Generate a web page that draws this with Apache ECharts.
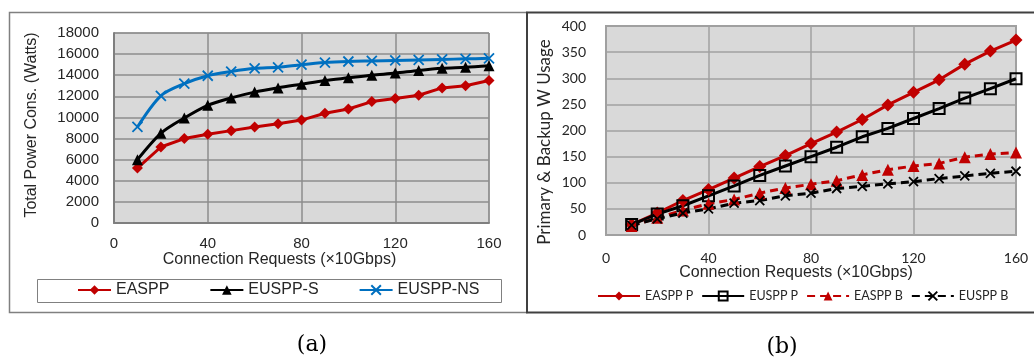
<!DOCTYPE html>
<html>
<head>
<meta charset="utf-8">
<script src="https://cdn.jsdelivr.net/npm/echarts@6/dist/echarts.min.js"></script>
<style>
html,body{margin:0;padding:0;background:#fff;}
#chart{width:1034px;height:361px;}
</style>
</head>
<body>
<div id="chart"></div>
<script>
// ---- Data ----
const requests = [10,20,30,40,50,60,70,80,90,100,110,120,130,140,150,160];

// (a) Total power consumption (Watts)
const easpp    = [5200,7200,8000,8400,8750,9100,9400,9750,10400,10800,11500,11800,12100,12800,13000,13500];
const euspps   = [6000,8500,9950,11150,11850,12400,12800,13150,13500,13750,14000,14200,14450,14650,14750,14900];
const eusppns  = [9100,12050,13200,13950,14350,14650,14750,15000,15200,15300,15350,15400,15450,15500,15550,15600];

// (b) Primary & backup wavelength usage
const easppP = [20,42,66,87,109,131,152,175,197,221,249,273,297,327,352,373];
const eusppP = [20,40,56,75,94,114,132,150,168,188,204,223,242,262,280,299];
const easppB = [17,33,47,60,68,80,90,97,104,115,125,132,137,149,155,158];
const eusppB = [19,31,42,50,61,66,75,80,89,93,98,102,108,113,118,122];

const namesA = ['EASPP','EUSPP-S','EUSPP-NS'];
const namesB = ['EASPP P','EUSPP P','EASPP B','EUSPP B'];

const xTitle = 'Connection Requests (×10Gbps)';
const yTitleA = 'Total Power Cons. (Watts)';
const yTitleB = 'Primary & Backup W Usage';

function pairs(ys){ return requests.map((x,i)=>[x, ys[i]]); }

const RED = '#c00000', BLACK = '#000000', BLUE = '#0070c0';
const XSYM = 'path://M0,0L10,10M0,10L10,0';
const ARIAL = 'Liberation Sans';
const CAL = 'Lato';
const plain = v => String(v);

const chart = echarts.init(document.getElementById('chart'), null, {renderer:'canvas'});

const option = {
  animation: false,
  backgroundColor: '#ffffff',
  grid: [
    {left:114, top:33, width:375, height:190, show:true, backgroundColor:'#d9d9d9', borderColor:'#8c8c8c', borderWidth:1, containLabel:false},
    {left:606, top:26, width:410, height:209, show:true, backgroundColor:'#d9d9d9', borderColor:'#a0a0a0', borderWidth:2, containLabel:false}
  ],
  xAxis: [
    {gridIndex:0, type:'value', min:0, max:160, interval:40,
      axisLine:{show:true, onZero:false, lineStyle:{color:'#7f7f7f', width:2}},
      axisTick:{show:false},
      axisLabel:{color:'#262626', fontFamily:ARIAL, fontSize:15, margin:13, formatter:plain},
      splitLine:{show:true, lineStyle:{color:'#8c8c8c', width:1.5}}},
    {gridIndex:1, type:'value', min:0, max:160, interval:40,
      axisLine:{show:true, onZero:false, lineStyle:{color:'#a0a0a0', width:2}},
      axisTick:{show:false},
      axisLabel:{color:'#262626', fontFamily:CAL, fontSize:14, margin:16, formatter:plain},
      splitLine:{show:true, lineStyle:{color:'#a0a0a0', width:1.5}}}
  ],
  yAxis: [
    {gridIndex:0, type:'value', min:0, max:18000, interval:2000,
      axisLine:{show:true, lineStyle:{color:'#7f7f7f', width:2}},
      axisTick:{show:false},
      axisLabel:{color:'#262626', fontFamily:ARIAL, fontSize:15, margin:15, formatter:plain},
      splitLine:{show:true, lineStyle:{color:'#8c8c8c', width:1.5}}},
    {gridIndex:1, type:'value', min:0, max:400, interval:50,
      axisLine:{show:true, lineStyle:{color:'#a0a0a0', width:2}},
      axisTick:{show:false},
      axisLabel:{color:'#262626', fontFamily:CAL, fontSize:14, margin:20, formatter:plain},
      splitLine:{show:true, lineStyle:{color:'#a0a0a0', width:1.5}}}
  ],
  legend: [
    {data:namesA, left:77, top:282, padding:0, itemGap:40, itemWidth:33, itemHeight:12,
      textStyle:{fontFamily:ARIAL, fontSize:16, color:'#262626', lineHeight:16}},
    {data:namesB, left:597, top:289, padding:0, itemGap:8, itemWidth:42, itemHeight:11,
      textStyle:{fontFamily:CAL, fontSize:12.5, color:'#262626', lineHeight:14}}
  ],
  series: [
    {name:namesA[0], type:'line', xAxisIndex:0, yAxisIndex:0, data:pairs(easpp),
      symbol:'diamond', symbolSize:11, lineStyle:{color:RED, width:3}, itemStyle:{color:RED}},
    {name:namesA[1], type:'line', xAxisIndex:0, yAxisIndex:0, data:pairs(euspps), smooth:0.3,
      symbol:'triangle', symbolSize:11, lineStyle:{color:BLACK, width:3}, itemStyle:{color:BLACK}},
    {name:namesA[2], type:'line', xAxisIndex:0, yAxisIndex:0, data:pairs(eusppns), smooth:0.3,
      symbol:XSYM, symbolSize:10, lineStyle:{color:BLUE, width:3}, itemStyle:{color:BLUE, borderColor:BLUE, borderWidth:1.8}},

    {name:namesB[0], type:'line', xAxisIndex:1, yAxisIndex:1, data:pairs(easppP),
      symbol:'diamond', symbolSize:13, lineStyle:{color:RED, width:3}, itemStyle:{color:RED}},
    {name:namesB[1], type:'line', xAxisIndex:1, yAxisIndex:1, data:pairs(eusppP),
      symbol:'rect', symbolSize:11, lineStyle:{color:BLACK, width:3}, itemStyle:{color:'rgba(0,0,0,0)', borderColor:BLACK, borderWidth:2}},
    {name:namesB[2], type:'line', xAxisIndex:1, yAxisIndex:1, data:pairs(easppB),
      symbol:'triangle', symbolSize:12, lineStyle:{color:RED, width:3, type:[8,5]}, itemStyle:{color:RED}},
    {name:namesB[3], type:'line', xAxisIndex:1, yAxisIndex:1, data:pairs(eusppB),
      symbol:XSYM, symbolSize:9, lineStyle:{color:BLACK, width:3, type:[8,5]}, itemStyle:{color:BLACK, borderColor:BLACK, borderWidth:1.8}}
  ],
  graphic: [
    // panel frames
    {type:'rect', shape:{x:9.5, y:12.5, width:517.5, height:300}, style:{fill:'none', stroke:'#808080', lineWidth:1.5}, z:-10},
    {type:'polyline', shape:{points:[[1040,12.5],[527,12.5],[527,312.5],[1040,312.5]]}, style:{fill:'none', stroke:'#404040', lineWidth:2}, z:-9},
    // legend box (a)
    {type:'rect', shape:{x:37.5, y:279.5, width:464, height:23}, style:{fill:'none', stroke:'#808080', lineWidth:1}},
    // axis titles
    {type:'text', x:279.5, y:260, style:{text:xTitle, font:'16px "Liberation Sans"', fill:'#262626', textAlign:'center', textVerticalAlign:'middle'}},
    {type:'text', x:796, y:273, style:{text:xTitle, font:'16px "Liberation Sans"', fill:'#262626', textAlign:'center', textVerticalAlign:'middle'}},
    {type:'text', x:32, y:125, rotation:Math.PI/2, style:{text:yTitleA, font:'16px "Liberation Sans"', fill:'#262626', textAlign:'center', textVerticalAlign:'middle'}},
    {type:'text', x:545, y:142, rotation:Math.PI/2, style:{text:yTitleB, font:'17px Lato', fill:'#262626', textAlign:'center', textVerticalAlign:'middle'}},
    // captions
    {type:'text', x:312, y:345, style:{text:'(a)', font:'22px "DejaVu Serif"', fill:'#000', textAlign:'center', textVerticalAlign:'middle'}},
    {type:'text', x:782, y:347, style:{text:'(b)', font:'22px "DejaVu Serif"', fill:'#000', textAlign:'center', textVerticalAlign:'middle'}}
  ]
};
chart.setOption(option);
</script>
</body>
</html>
